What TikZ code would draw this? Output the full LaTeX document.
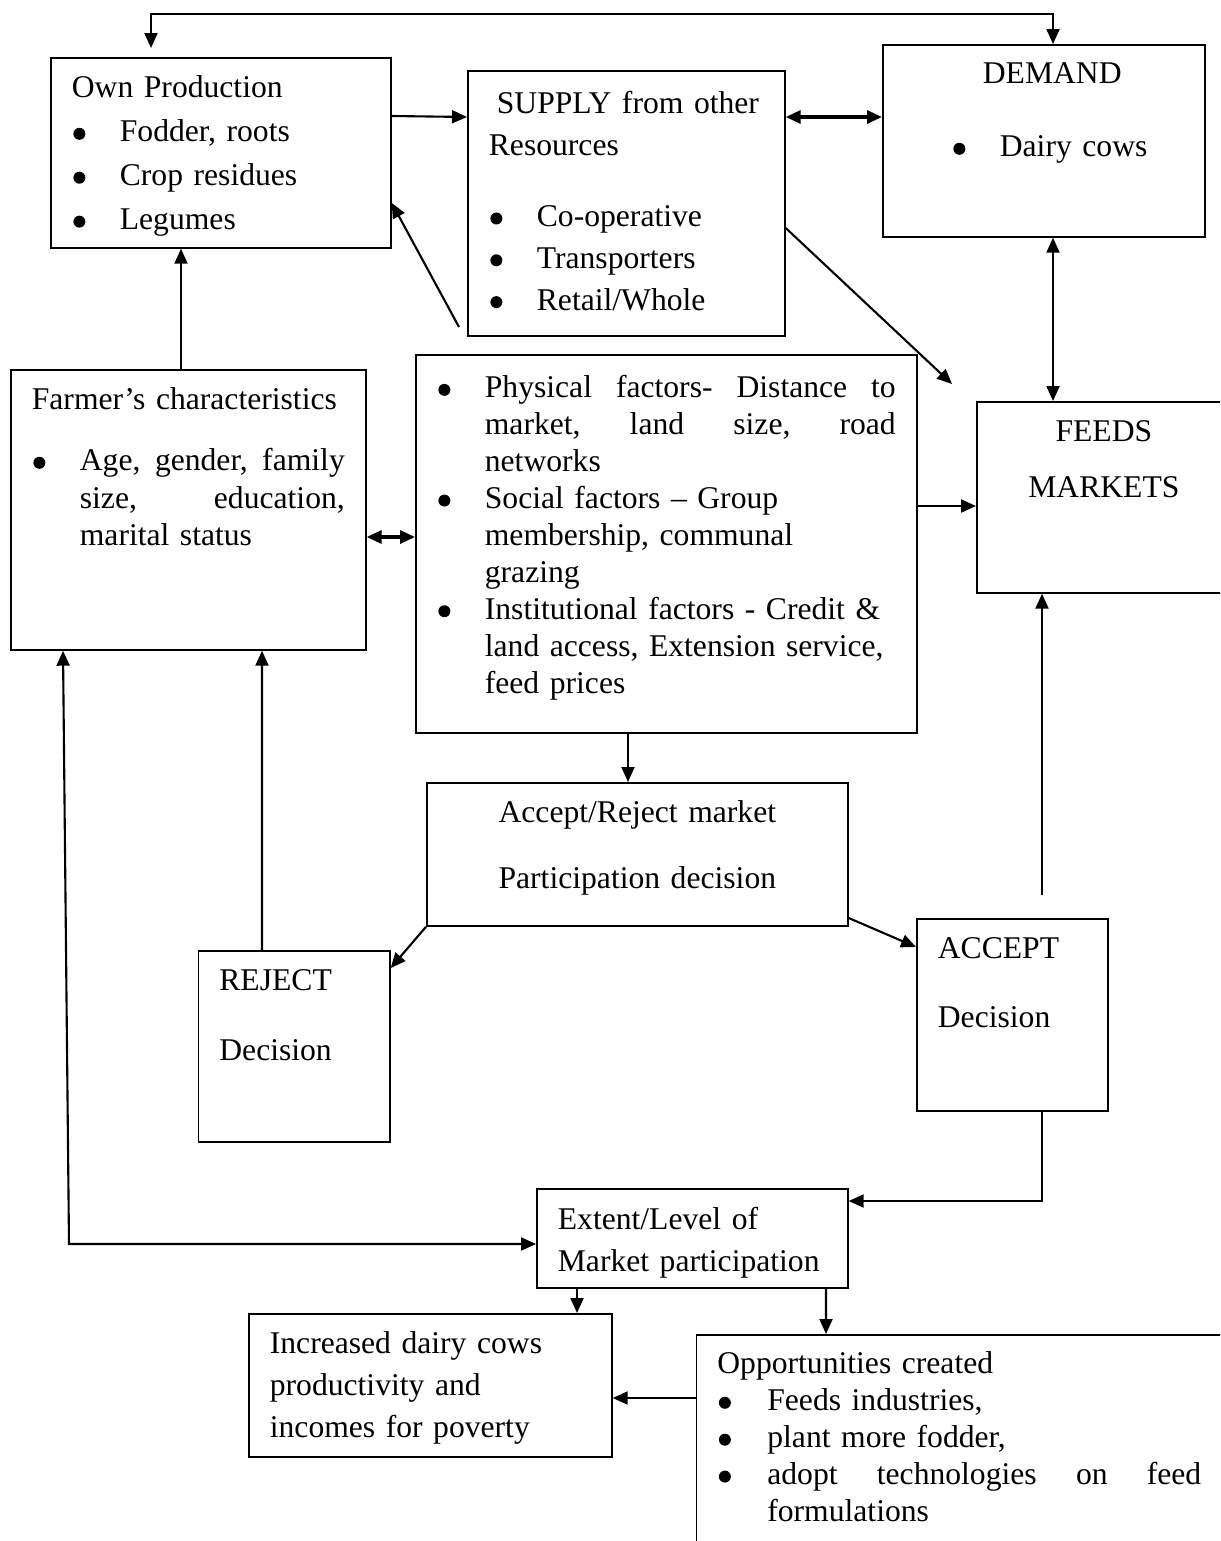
\documentclass[tikz,border=0pt]{standalone}
\usepackage{fontspec}
\setmainfont{Liberation Serif}
\usepackage{tikz}
\usetikzlibrary{arrows.meta, calc}
\newcommand{\bul}[1][0.96cm]{\makebox[#1][l]{\hspace{0.03cm}\tikz[baseline=0pt]\fill (0.14cm,0.16cm) circle (0.12cm);}}
\newcommand{\ind}{\hspace*{0.96cm}}
\newcommand{\jline}[2]{\hbox to #1{#2}}
\tikzset{
  block/.style={
    draw, line width=1pt, anchor=north west, inner xsep=0.42cm, inner ysep=0pt,
    align=left, font=\fontsize{18pt}{#1}\selectfont
  },
  block/.default=21.6pt,
  arrow/.style={-{Triangle[length=0.3cm,width=0.26cm]}, line width=1.2pt},
  twoway/.style={{Triangle[length=0.3cm,width=0.26cm]}-{Triangle[length=0.3cm,width=0.26cm]}, line width=1.2pt},
  heavytwoway/.style={twoway, line width=1.8pt}
}
\begin{document}
\begin{tikzpicture}[x=0.02cm, y=-0.02cm]
  \useasboundingbox (0,0) rectangle (1220,1541);
  \clip (0,0) rectangle (1220,1541);

  % top row
  \node[block=25pt, text width=5.96cm, text height=0.8cm, text depth=3.0cm] (own) at (50,57)
    {Own Production\\ \bul Fodder, roots\\ \bul Crop residues\\ \bul Legumes};
  \node[block=23.8pt, text width=5.5cm, text height=0.86cm, text depth=4.44cm] (supply) at (467,70)
    {\hspace*{0.16cm}SUPPLY from other\\ Resources\\[0.58cm] \bul Co-operative\\ \bul Transporters\\ \bul Retail/Whole};
  \node[block=25pt, text width=5.6cm, text height=0.78cm, text depth=3.06cm] (demand) at (882,44)
    {\hspace*{1.58cm}DEMAND\\[0.58cm] \ind\bul Dairy cows};

  % middle row
  \node[block=21.3pt, text width=6.26cm, text height=0.8cm, text depth=4.8cm] (farmer) at (10,369)
    {Farmer’s characteristics\\[0.47cm]
     \bul\jline{5.3cm}{Age,\hfill gender,\hfill family}\\
     \ind\jline{5.3cm}{size,\hfill education,}\\
     \ind marital status};
  \node[block=21pt, text width=9.18cm, text height=0.86cm, text depth=6.7cm] (factors) at (415,354)
    {\bul\jline{8.22cm}{Physical\hfill factors-\hfill Distance\hfill to}\\
     \ind\jline{8.22cm}{market,\hfill land\hfill size,\hfill road}\\
     \ind networks\\
     \bul Social factors – Group\\
     \ind membership, communal\\
     \ind grazing\\
     \bul Institutional factors - Credit \&\\
     \ind land access, Extension service,\\
     \ind feed prices};
  \node[block=31.8pt, align=center, text width=4.24cm, text height=0.8cm, text depth=3.02cm] (feeds) at (976,401)
    {FEEDS\\ MARKETS};

  % decisions
  \node[block=37.5pt, align=center, text width=7.58cm, text height=0.8cm, text depth=2.06cm] (accrej) at (426,782)
    {Accept/Reject market\\ Participation decision};
  \node[block=39.8pt, text width=2.99cm, text height=0.8cm, text depth=3.02cm] (reject) at (197.5,950)
    {REJECT\\ Decision};
  \node[block=39.2pt, text width=2.98cm, text height=0.8cm, text depth=3.04cm] (accept) at (916,918)
    {ACCEPT\\ Decision};

  % outcomes
  \node[block=23.8pt, text width=5.38cm, text height=0.82cm, text depth=1.16cm] (extent) at (536,1188)
    {Extent/Level of\\ Market participation};
  \node[block=23.8pt, text width=6.42cm, text height=0.8cm, text depth=2.06cm] (increased) at (248,1313)
    {Increased dairy cows\\ productivity and\\ incomes for poverty};
  \node[block=21pt, text width=9.86cm, text height=0.78cm, text depth=3.82cm] (opp) at (695.5,1334)
    {Opportunities created\\
     \bul[1.0cm]Feeds industries,\\
     \bul[1.0cm]plant more fodder,\\
     \bul[1.0cm]\jline{8.68cm}{adopt\hfill technologies\hfill on\hfill feed}\\
     \hspace*{1.0cm}formulations};

  \coordinate (corner) at (69,1244);

  % connectors
  \draw[twoway] ($(own.north west)+(101,-9)$) |- ($(demand.north west)+(171,-30)$)
    -| ($(demand.north west)+(171,0)$);
  \draw[arrow] ($(own.north east)+(0,59)$) -- ($(supply.north west)+(0,47)$);
  \draw[heavytwoway] ($(supply.north east)+(0,47)$) -- ($(demand.north west)+(0,73)$);
  \draw[arrow] ($(factors.north west)+(44,-27)$) -- ($(own.north east)+(0,146)$);
  \draw[arrow] ($(supply.north east)+(0,158)$) -- ($(feeds.north west)+(-24,-17)$);
  \draw[twoway] ($(demand.south west)+(171,0)$) -- ($(feeds.north west)+(77,0)$);
  \draw[arrow] ($(farmer.north west)+(171,0)$) -- ($(own.south west)+(131,0)$);
  \draw[heavytwoway] ($(farmer.north east)+(0,168)$) -- ($(factors.north west)+(0,183)$);
  \draw[arrow] ($(factors.north east)+(0,152)$) -- ($(feeds.north west)+(0,105)$);
  \draw[arrow] ($(factors.south west)+(213,0)$) -- ($(accrej.north west)+(202,0)$);
  \draw[arrow] (accrej.south west) -- ($(reject.north east)+(0,18)$);
  \draw[arrow] ($(accrej.north east)+(0,136)$) -- ($(accept.north west)+(0,29)$);
  \draw[arrow] ($(accept.north west)+(126,-23)$) -- ($(feeds.south west)+(66,0)$);
  \draw[arrow] ($(reject.north west)+(64.5,0)$) -- ($(farmer.south west)+(252,0)$);
  \draw[twoway] ($(farmer.south west)+(53,0)$) -- (corner) -- ($(extent.north west)+(0,56)$);
  \draw[arrow] ($(accept.south west)+(126,0)$) |- ($(extent.north east)+(0,13)$);
  \draw[arrow] ($(extent.south west)+(41,0)$) -- ($(increased.north west)+(329,0)$);
  \draw[arrow] ($(extent.south west)+(290,0)$) -- ($(opp.north west)+(130.5,0)$);
  \draw[arrow] ($(opp.north west)+(0,64)$) -- ($(increased.north east)+(0,85)$);
\end{tikzpicture}
\end{document}
